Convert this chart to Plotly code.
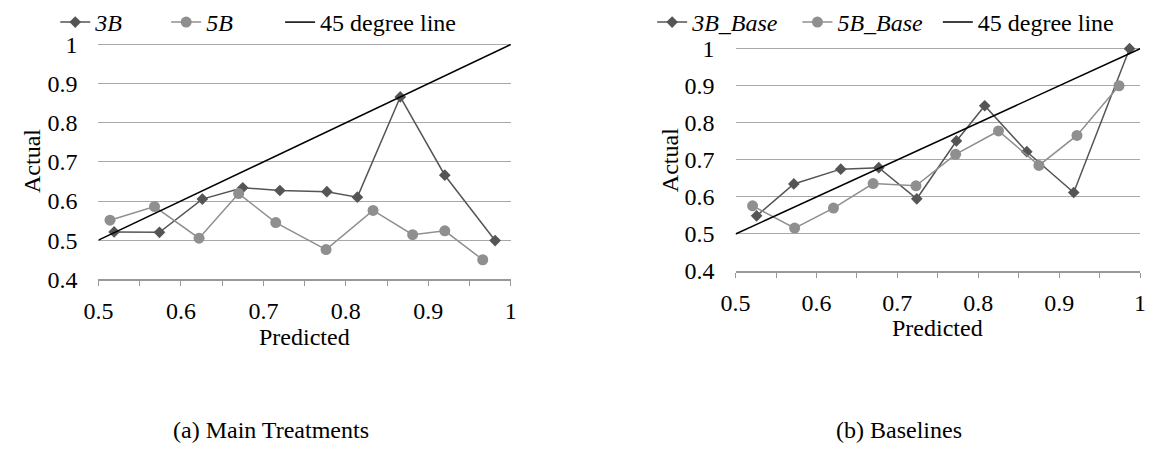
import plotly.graph_objects as go

W, H = 1149, 457

# ---------------- data ----------------
pred_3b = [0.519, 0.574, 0.626, 0.675, 0.720, 0.777, 0.814, 0.866, 0.920, 0.981]
act_3b = [0.521, 0.520, 0.605, 0.634, 0.627, 0.624, 0.610, 0.866, 0.666, 0.499]
pred_5b = [0.514, 0.568, 0.622, 0.670, 0.715, 0.776, 0.833, 0.881, 0.920, 0.966]
act_5b = [0.551, 0.586, 0.505, 0.619, 0.545, 0.476, 0.576, 0.514, 0.524, 0.450]

pred_3b_base = [0.526, 0.572, 0.630, 0.677, 0.724, 0.773, 0.808, 0.860, 0.918, 0.987]
act_3b_base = [0.549, 0.635, 0.675, 0.679, 0.595, 0.751, 0.846, 0.722, 0.612, 1.000]
pred_5b_base = [0.521, 0.573, 0.621, 0.670, 0.723, 0.772, 0.825, 0.875, 0.922, 0.974]
act_5b_base = [0.576, 0.516, 0.570, 0.636, 0.630, 0.715, 0.778, 0.685, 0.766, 0.900]

diag = [0.5, 1.0]

x_tickvals = [0.5, 0.6, 0.7, 0.8, 0.9, 1.0]
x_ticktext = ["0.5", "0.6", "0.7", "0.8", "0.9", "1"]
y_tickvals = [0.4, 0.5, 0.6, 0.7, 0.8, 0.9, 1.0]
y_ticktext = ["0.4", "0.5", "0.6", "0.7", "0.8", "0.9", "1"]

captions = ["(a) Main Treatments", "(b) Baselines"]

# ---------------- styles ----------------
FONT = "Liberation Serif"
C3 = "#555555"
C5 = "#8f8f8f"
GRID = "#a8a8a8"
AXC = "#999999"
FS = 24
LEG_OFF = 40  # legend x -> text start offset (px)
Y_LO, Y_HI, Y_PAD = 0.4, 1.0, 0.01


def px(x):
    return x / W


def py(y):
    return 1 - y / H


fig = go.Figure()


def add_series(x, y, name, color, symbol, size, xa, ya, legend):
    fig.add_trace(go.Scatter(
        x=x, y=y, name=name, mode="lines+markers",
        line=dict(color=color, width=1.5),
        marker=dict(symbol=symbol, size=size, color=color),
        xaxis=xa, yaxis=ya, legend=legend, cliponaxis=False))


def add_diag(xa, ya, legend):
    fig.add_trace(go.Scatter(x=diag, y=diag, name="45 degree line", mode="lines",
                             line=dict(color="black", width=1.5),
                             xaxis=xa, yaxis=ya, legend=legend, cliponaxis=False))


add_series(pred_3b, act_3b, "<i>3B</i>", C3, "diamond", 9, "x", "y", "legend")
add_series(pred_5b, act_5b, "<i>5B</i>", C5, "circle", 11, "x", "y", "legend2")
add_diag("x", "y", "legend3")
add_series(pred_3b_base, act_3b_base, "<i>3B_Base</i>", C3, "diamond", 9, "x2", "y2", "legend4")
add_series(pred_5b_base, act_5b_base, "<i>5B_Base</i>", C5, "circle", 11, "x2", "y2", "legend5")
add_diag("x2", "y2", "legend6")

tickfont = dict(family=FONT, size=FS, color="black")

# plot areas in pixels (y of value 1.0 and 0.4)
L = dict(x0=85, x1=505, ytop=37.3, ybot=284)
R = dict(x0=734, x1=1146, ytop=41.7, ybot=275.3)


def xaxis_cfg(area, anchor):
    return dict(
        domain=[px(area["x0"]), px(area["x1"])], range=[0.5, 1.0], anchor=anchor,
        showgrid=False, zeroline=False, showline=True, linecolor=AXC, linewidth=1.5,
        ticks="outside", ticklen=5, tickwidth=1.2, tickcolor=AXC,
        tickvals=x_tickvals, ticktext=x_ticktext, tickfont=tickfont,
        ticklabelstandoff=4,
        minor=dict(tickmode="linear", tick0=0.5, dtick=0.05, ticks="outside",
                   ticklen=5, tickwidth=1.2, tickcolor=AXC, showgrid=False),
        fixedrange=True)


def xover_cfg(base, anchor):
    return dict(
        overlaying=base, anchor=anchor, range=[0.5, 1.0], side="bottom",
        showgrid=False, zeroline=False, showline=False, showticklabels=False,
        ticks="inside", ticklen=6, tickwidth=1.2, tickcolor=AXC,
        tickmode="linear", tick0=0.5, dtick=0.05, fixedrange=True)


def yaxis_cfg(area, anchor):
    per = (area["ybot"] - area["ytop"]) / (Y_HI - Y_LO)
    top = area["ytop"] - Y_PAD * per
    return dict(
        domain=[py(area["ybot"]), py(top)], range=[Y_LO, Y_HI + Y_PAD], anchor=anchor,
        showgrid=True, gridcolor=GRID, gridwidth=1.3, zeroline=False, showline=False,
        ticks="", tickvals=y_tickvals, ticktext=y_ticktext, tickfont=tickfont,
        ticklabelstandoff=20, fixedrange=True)


legend_font = dict(family=FONT, size=FS, color="black")


def leg(text_x):
    return dict(orientation="h", x=px(text_x - LEG_OFF), y=py(14), xanchor="left",
                yanchor="middle", font=legend_font, bgcolor="rgba(0,0,0,0)",
                itemclick=False, itemdoubleclick=False)


fig.update_layout(
    width=W, height=H, autosize=False,
    margin=dict(l=0, r=0, t=0, b=0),
    paper_bgcolor="white", plot_bgcolor="white",
    font=dict(family=FONT, size=FS, color="black"),
    xaxis=xaxis_cfg(L, "y"),
    yaxis=yaxis_cfg(L, "x"),
    xaxis2=xaxis_cfg(R, "y2"),
    yaxis2=yaxis_cfg(R, "x2"),
    xaxis3=xover_cfg("x", "y"),
    xaxis4=xover_cfg("x2", "y2"),
    legend=leg(81), legend2=leg(194), legend3=leg(310),
    legend4=leg(689), legend5=leg(837), legend6=leg(980),
    showlegend=True,
)

ann = [
    dict(text="Actual", x=px(18), y=py(160), textangle=-90),
    dict(text="Actual", x=px(668), y=py(159), textangle=-90),
    dict(text="Predicted", x=px(295), y=py(345)),
    dict(text="Predicted", x=px(940), y=py(335)),
    dict(text=captions[0], x=px(261), y=py(442)),
    dict(text=captions[1], x=px(900), y=py(442)),
]
for a in ann:
    a.setdefault("font", dict(family=FONT, size=FS, color="black"))
    fig.add_annotation(xref="paper", yref="paper", xanchor="center", yanchor="middle",
                       showarrow=False, **a)

fig.write_html("out.html")
